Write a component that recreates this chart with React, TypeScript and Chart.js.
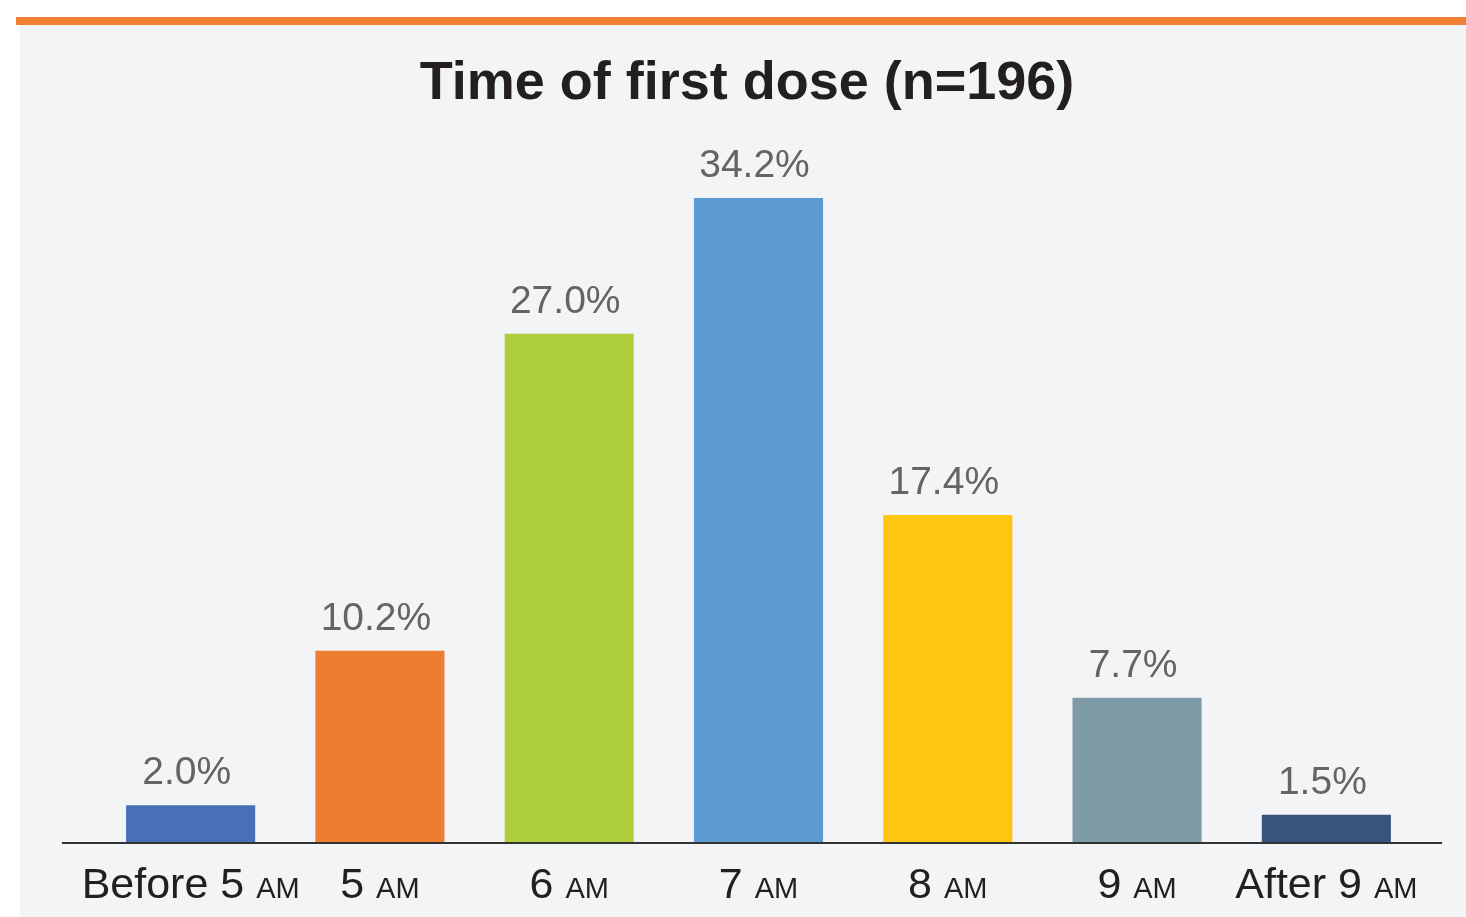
import React, { useEffect, useRef } from "react";
import { Chart, registerables } from "chart.js";

Chart.register(...registerables);

const categories = ["Before 5", "5", "6", "7", "8", "9", "After 9"];
const suffix = "AM";
const values = [2.0, 10.2, 27.0, 34.2, 17.4, 7.7, 1.5];
const valueLabels = ["2.0%", "10.2%", "27.0%", "34.2%", "17.4%", "7.7%", "1.5%"];
const barColors = ["#4770b7", "#ed7d31", "#aecf3b", "#5b9bd1", "#fdc711", "#7f9ba7", "#37547b"];
const titleText = "Time of first dose (n=196)";

const FONT = "'Liberation Sans', Arial, Helvetica, sans-serif";

const decorPlugin = {
  id: "decor",
  beforeDraw(chart: any) {
    const ctx = chart.ctx;
    ctx.save();
    ctx.fillStyle = "#f3f4f6";
    ctx.fillRect(20, 25, chart.width - 20, chart.height - 25);
    ctx.fillStyle = "#ef7f33";
    ctx.fillRect(16, 17, chart.width - 16, 8);
    ctx.fillStyle = "#231f20";
    ctx.font = `bold 54px ${FONT}`;
    ctx.textAlign = "center";
    ctx.textBaseline = "alphabetic";
    ctx.fillText(titleText, 747, 99);
    ctx.restore();
  },
  afterDatasetsDraw(chart: any) {
    const ctx = chart.ctx;
    const area = chart.chartArea;
    const meta = chart.getDatasetMeta(0);
    const xScale = chart.scales.x;
    ctx.save();
    // axis line
    ctx.strokeStyle = "#333333";
    ctx.lineWidth = 2;
    ctx.beginPath();
    ctx.moveTo(62, area.bottom);
    ctx.lineTo(1442, area.bottom);
    ctx.stroke();
    // value labels
    ctx.fillStyle = "#636466";
    ctx.font = `39px ${FONT}`;
    ctx.textAlign = "center";
    ctx.textBaseline = "alphabetic";
    meta.data.forEach((bar: any, i: number) => {
      ctx.fillText(valueLabels[i], bar.x - 4, bar.y - 21);
    });
    // category labels with small-caps AM
    ctx.fillStyle = "#231f20";
    ctx.textAlign = "left";
    categories.forEach((c, i) => {
      const x = xScale.getPixelForValue(i);
      const main = c + " ";
      ctx.font = `43px ${FONT}`;
      const w1 = ctx.measureText(main).width;
      ctx.font = `29px ${FONT}`;
      const w2 = ctx.measureText(suffix).width;
      const start = x - (w1 + w2) / 2;
      ctx.font = `43px ${FONT}`;
      ctx.fillText(main, start, 898);
      ctx.font = `29px ${FONT}`;
      ctx.fillText(suffix, start + w1, 898);
    });
    ctx.restore();
  },
};

export default function App() {
  const ref = useRef<HTMLCanvasElement | null>(null);
  useEffect(() => {
    document.body.style.margin = "0";
    const chart = new Chart(ref.current as HTMLCanvasElement, {
      type: "bar",
      data: {
        labels: categories.map((c) => `${c} ${suffix}`),
        datasets: [
          {
            data: values,
            backgroundColor: barColors,
            borderWidth: 0,
            categoryPercentage: 1,
            barPercentage: 0.682,
          },
        ],
      },
      options: {
        animation: false,
        responsive: false,
        layout: { padding: { left: 96, right: 45, top: 150, bottom: 74 } },
        plugins: { legend: { display: false }, tooltip: { enabled: false }, title: { display: false } },
        scales: {
          x: { display: false },
          y: { display: false, min: 0, max: 36.75 },
        },
      },
      plugins: [decorPlugin],
    });
    return () => chart.destroy();
  }, []);
  return (
    <div style={{ width: 1466, height: 917 }}>
      <canvas ref={ref} width={1466} height={917} style={{ display: "block" }} />
    </div>
  );
}
